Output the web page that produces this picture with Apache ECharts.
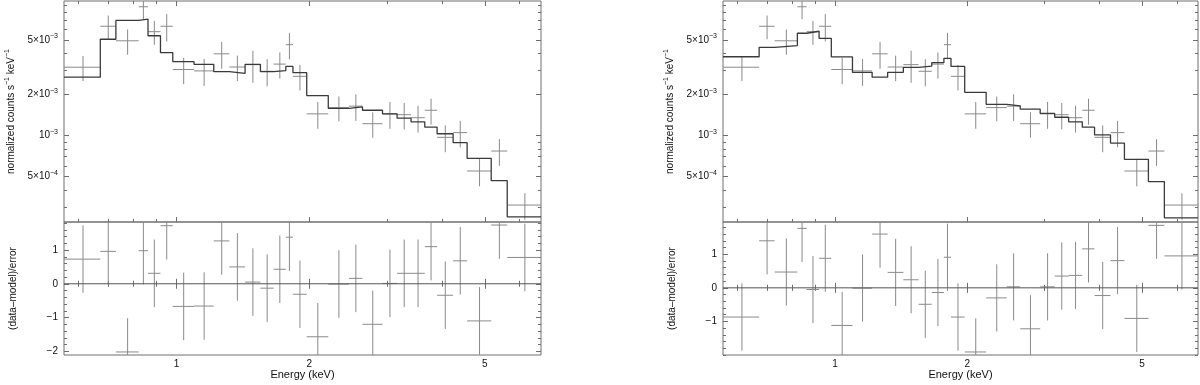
<!DOCTYPE html>
<html>
<head>
<meta charset="utf-8">
<title>Spectral fits</title>
<script src="https://cdn.jsdelivr.net/npm/echarts@6/dist/echarts.min.js"></script>
<style>
  html, body { margin: 0; padding: 0; background: #fff; }
  #main { width: 1200px; height: 385px; }
</style>
</head>
<body>
<div id="main"></div>
<script>
// energy bin edges (keV), 28 bins
var binEdges = [0.556, 0.672, 0.729, 0.821, 0.862, 0.920, 0.981, 1.096, 1.215, 1.318,
  1.431, 1.550, 1.661, 1.770, 1.837, 1.974, 2.209, 2.461, 2.641, 2.932,
  3.164, 3.403, 3.656, 3.899, 4.239, 4.560, 5.171, 5.622, 6.706];

// observed spectrum (normalized counts s^-1 keV^-1) and 1-sigma errors
var dataFlux = [3.16e-3, 6.30e-3, 4.93e-3, 8.75e-3, 5.75e-3, 6.30e-3, 3.04e-3, 2.97e-3, 3.96e-3, 3.17e-3,
  3.30e-3, 2.95e-3, 3.33e-3, 4.62e-3, 2.71e-3, 1.44e-3, 1.60e-3, 1.64e-3, 1.22e-3, 1.44e-3,
  1.42e-3, 1.35e-3, 1.53e-3, 0.97e-3, 1.05e-3, 0.55e-3, 0.77e-3, 0.31e-3];
var dataErr = [0.655e-3, 1.24e-3, 1.03e-3, 1.65e-3, 1.14e-3, 1.42e-3, 0.665e-3, 0.66e-3, 0.88e-3, 0.67e-3,
  0.87e-3, 0.66e-3, 0.72e-3, 1.01e-3, 0.575e-3, 0.32e-3, 0.33e-3, 0.36e-3, 0.257e-3, 0.32e-3,
  0.31e-3, 0.30e-3, 0.33e-3, 0.215e-3, 0.23e-3, 0.125e-3, 0.17e-3, 0.068e-3];

// folded models of the two fits
var modelA = [2.67e-3, 5.06e-3, 6.95e-3, 7.10e-3, 5.37e-3, 4.04e-3, 3.47e-3, 3.32e-3, 2.93e-3, 2.85e-3,
  3.32e-3, 2.93e-3, 2.98e-3, 3.20e-3, 2.88e-3, 1.96e-3, 1.58e-3, 1.62e-3, 1.53e-3, 1.44e-3,
  1.34e-3, 1.26e-3, 1.15e-3, 1.03e-3, 0.887e-3, 0.681e-3, 0.467e-3, 0.254e-3];
var modelB = [3.77e-3, 4.42e-3, 4.54e-3, 5.60e-3, 5.79e-3, 5.14e-3, 3.76e-3, 2.90e-3, 2.67e-3, 2.90e-3,
  3.15e-3, 3.22e-3, 3.41e-3, 3.67e-3, 3.20e-3, 2.07e-3, 1.69e-3, 1.65e-3, 1.56e-3, 1.45e-3,
  1.36e-3, 1.26e-3, 1.15e-3, 1.01e-3, 0.88e-3, 0.67e-3, 0.46e-3, 0.25e-3];

// residuals (data-model)/error, error bars are +-1
var residA = [0.73, 0.96, -2.02, 0.98, 0.31, 1.72, -0.67, -0.66, 1.27, 0.50,
  0.05, -0.13, 0.43, 1.38, -0.31, -1.57, -0.01, 0.16, -1.20, 0.01,
  0.31, 0.31, 1.10, -0.34, 0.68, -1.10, 1.74, 0.78];
var residB = [-0.87, 1.40, 0.47, 1.77, -0.05, 0.88, -1.12, -0.01, 1.60, 0.46,
  0.24, -0.49, -0.14, 0.91, -0.87, -1.91, -0.30, 0.03, -1.22, 0.03,
  0.35, 0.37, 1.16, -0.23, 0.81, -0.91, 1.86, 0.95];
var residErr = 1;

// ticks and tick labels
var energyMajor = [1, 2, 5];
var energyMajorText = ['1', '2', '5'];
var energyMinor = [0.6, 0.7, 0.8, 0.9, 3, 4, 6];
var fluxMajor = [5e-4, 1e-3, 2e-3, 5e-3];
var fluxMajorText = [['5×10', '−4'], ['10', '−3'], ['2×10', '−3'], ['5×10', '−3']];
var fluxMinor = [3e-4, 4e-4, 6e-4, 7e-4, 8e-4, 9e-4, 3e-3, 4e-3, 6e-3, 7e-3, 8e-3, 9e-3];
var residMajorA = [-2, -1, 0, 1];
var residMajorB = [-1, 0, 1];
var residMinor = [-2, -1.8, -1.6, -1.4, -1.2, -1, -0.8, -0.6, -0.4, -0.2,
  0, 0.2, 0.4, 0.6, 0.8, 1, 1.2, 1.4, 1.6, 1.8];

var eMin = binEdges[0], eMax = binEdges[binEdges.length - 1];
var fluxMin = 2.33e-4, fluxMax = 9.64e-3;

var font = 'Liberation Sans, Arial, Helvetica, sans-serif';
var textColor = '#111';
var frameColor = '#6e6e6e';
var crossColor = '#8a8a8a';
var modelColor = '#3a3a3a';

var richText = {
  m: {fontSize: 10, lineHeight: 14, fontFamily: font, color: textColor},
  e: {fontSize: 7, lineHeight: 9, fontFamily: font, color: textColor, verticalAlign: 'top'}
};

var panels = [
  {left: 64, width: 477, model: modelA, resid: residA, rMin: -2.11, rMax: 1.83, rLabels: residMajorA},
  {left: 723, width: 475, model: modelB, resid: residB, rMin: -2.0, rMax: 1.96, rLabels: residMajorB}
];

var grids = [], xAxes = [], yAxes = [], series = [];

function tickAxis(base, side, values, len) {
  return Object.assign({}, base, {
    position: side,
    axisLine: {show: false},
    splitLine: {show: false},
    axisTick: {show: true, inside: true, length: len, customValues: values,
      lineStyle: {color: frameColor, width: 1}},
    axisLabel: {show: false}
  });
}

// major + minor tick axes on both sides, the first one gets labels / title
function pushAxes(list, base, sides, major, minor, extra) {
  var start = list.length;
  sides.forEach(function (side, k) {
    var a = tickAxis(base, side, major, 5);
    if (k === 0 && extra) Object.assign(a, extra);
    list.push(a);
    list.push(tickAxis(base, side, minor, 3));
  });
  return start;
}

function renderCross(params, api) {
  var lo = api.value(0), hi = api.value(1), y = api.value(2), err = api.value(3);
  var cs = params.coordSys;
  var mid = (lo + hi) / 2;
  var a = api.coord([lo, y]), b = api.coord([hi, y]);
  var c = api.coord([mid, y + err]), d = api.coord([mid, y - err]);
  var top = cs.y, bottom = cs.y + cs.height;
  c[1] = Math.max(c[1], top);
  d[1] = Math.min(d[1], bottom);
  var st = {stroke: crossColor, lineWidth: 1};
  return {
    type: 'group',
    children: [
      {type: 'line', shape: {x1: a[0], y1: a[1], x2: b[0], y2: b[1]}, style: st},
      {type: 'line', shape: {x1: c[0], y1: c[1], x2: d[0], y2: d[1]}, style: st}
    ]
  };
}

function fluxLabel(v) {
  for (var i = 0; i < fluxMajor.length; i++) {
    if (Math.abs(v / fluxMajor[i] - 1) < 1e-6) {
      return '{m|' + fluxMajorText[i][0] + '}{e|' + fluxMajorText[i][1] + '}';
    }
  }
  return '';
}

function energyLabel(v) {
  for (var i = 0; i < energyMajor.length; i++) {
    if (Math.abs(v / energyMajor[i] - 1) < 1e-6) return energyMajorText[i];
  }
  return '';
}

function residLabel(v) {
  var n = Math.round(v);
  return n < 0 ? '−' + Math.abs(n) : String(n);
}

panels.forEach(function (p) {
  var gTop = grids.length;
  grids.push({left: p.left, top: 1, width: p.width, height: 221, show: true,
    borderColor: frameColor, borderWidth: 1, backgroundColor: 'transparent', outerBoundsMode: 'none'});
  var gRes = grids.length;
  grids.push({left: p.left, top: 222, width: p.width, height: 133, show: true,
    borderColor: frameColor, borderWidth: 1, backgroundColor: 'transparent', outerBoundsMode: 'none'});

  // spectrum panel
  var xTop = pushAxes(xAxes, {type: 'log', logBase: 10, min: eMin, max: eMax, gridIndex: gTop},
    ['bottom', 'top'], energyMajor, energyMinor);
  var yTop = pushAxes(yAxes, {type: 'log', logBase: 10, min: fluxMin, max: fluxMax, gridIndex: gTop},
    ['left', 'right'], fluxMajor, fluxMinor, {
      axisLabel: {show: true, customValues: fluxMajor, formatter: fluxLabel, margin: 6, rich: richText},
      name: '{m|normalized counts s}{e|−1}{m| keV}{e|−1}',
      nameLocation: 'middle', nameGap: 46, nameMoveOverlap: false,
      nameTextStyle: {rich: richText}
    });

  // residual panel
  var xRes = pushAxes(xAxes, {type: 'log', logBase: 10, min: eMin, max: eMax, gridIndex: gRes},
    ['bottom', 'top'], energyMajor, energyMinor, {
      axisLabel: {show: true, customValues: energyMajor, formatter: energyLabel, margin: 4,
        fontSize: 10, fontFamily: font, color: textColor},
      name: 'Energy (keV)', nameLocation: 'middle', nameGap: 14, nameMoveOverlap: false,
      nameTextStyle: {fontSize: 11, fontFamily: font, color: textColor}
    });
  var yRes = pushAxes(yAxes, {type: 'value', min: p.rMin, max: p.rMax, gridIndex: gRes},
    ['left', 'right'], p.rLabels, residMinor, {
      axisLabel: {show: true, customValues: p.rLabels, formatter: residLabel, margin: 6,
        fontSize: 10, fontFamily: font, color: textColor},
      name: '(data–model)/error', nameLocation: 'middle', nameGap: 46, nameMoveOverlap: false,
      nameTextStyle: {fontSize: 10, fontFamily: font, color: textColor}
    });

  var crosses = dataFlux.map(function (f, i) {
    return [binEdges[i], binEdges[i + 1], f, dataErr[i]];
  });
  var resCrosses = p.resid.map(function (r, i) {
    return [binEdges[i], binEdges[i + 1], r, residErr];
  });
  var steps = binEdges.map(function (e, i) {
    return [e, p.model[Math.min(i, p.model.length - 1)]];
  });

  series.push({
    type: 'custom', xAxisIndex: xTop, yAxisIndex: yTop, data: crosses,
    encode: {x: [0, 1], y: 2}, renderItem: renderCross, silent: true, z: 2
  });
  series.push({
    type: 'line', xAxisIndex: xTop, yAxisIndex: yTop, data: steps, step: 'end',
    symbol: 'none', clip: true, silent: true, z: 3,
    lineStyle: {color: modelColor, width: 1.3}
  });
  series.push({
    type: 'custom', xAxisIndex: xRes, yAxisIndex: yRes, data: resCrosses,
    encode: {x: [0, 1], y: 2}, renderItem: renderCross, silent: true, z: 2
  });
  series.push({
    type: 'line', xAxisIndex: xRes, yAxisIndex: yRes, data: [[eMin, 0], [eMax, 0]],
    symbol: 'none', silent: true, z: 3,
    lineStyle: {color: '#555', width: 1}
  });
});

var chart = echarts.init(document.getElementById('main'));
chart.setOption({
  animation: false,
  backgroundColor: '#fff',
  grid: grids,
  xAxis: xAxes,
  yAxis: yAxes,
  series: series
});
</script>
</body>
</html>
